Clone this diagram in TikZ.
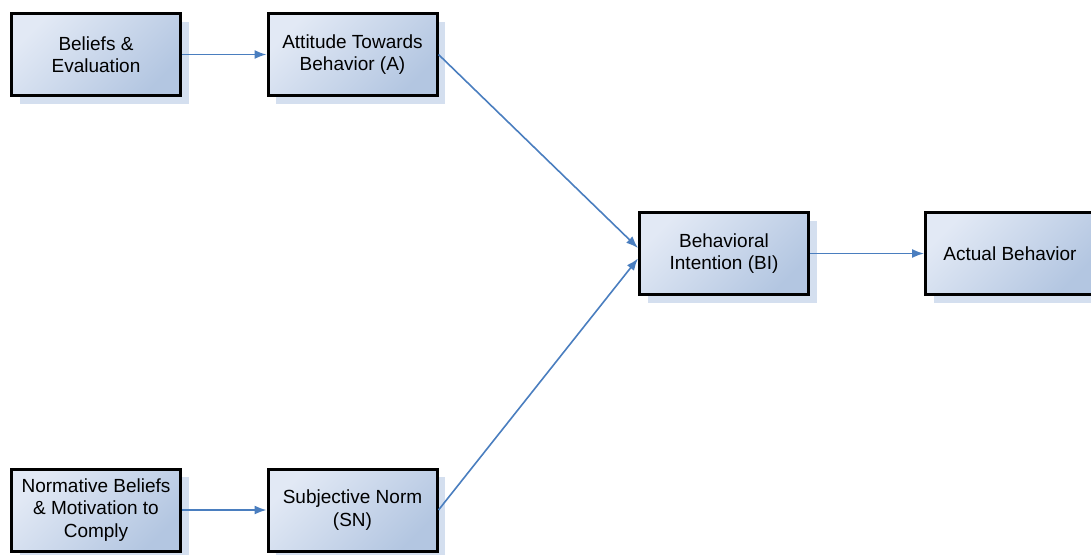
\documentclass[tikz,border=0pt]{standalone}
\usepackage{fontspec}
\setmainfont{Liberation Sans}
\usetikzlibrary{arrows.meta,shadows}
\definecolor{boxlight}{HTML}{E2E9F5}
\definecolor{boxdark}{HTML}{B3C6E1}
\definecolor{shadowblue}{HTML}{D4DFEF}
\definecolor{linkblue}{HTML}{4A7EBF}
\tikzset{
  stage/.style={draw=black, line width=3pt, minimum width=169pt, minimum height=82pt,
    inner sep=2pt, align=center, text=black,
    top color=boxlight, bottom color=boxdark, shading angle=45,
    font=\fontsize{19}{22.5}\selectfont,
    drop shadow={shadow xshift=8pt, shadow yshift=-8pt, fill=shadowblue, opacity=1}},
  link/.style={draw=linkblue, line width=1.6pt, -{Latex[length=12pt,width=9pt]}}
}
\begin{document}
\begin{tikzpicture}[x=1pt,y=-1pt]
  \useasboundingbox (0,0) rectangle (1091,554);
  % stage boxes
  \node[stage] (bel) at (96,54.5) {Beliefs \&\\Evaluation};
  \node[stage] (att) at (352.5,54.5) {Attitude Towards\\Behavior (A)};
  \node[stage] (bi)  at (724,253.5) {Behavioral\\Intention (BI)};
  \node[stage] (act) at (1010,253.5) {Actual Behavior};
  \node[stage] (nor) at (96,510) {Normative Beliefs\\\& Motivation to\\Comply};
  \node[stage] (sn)  at (352.5,510) {Subjective Norm\\(SN)};
  % connectors
  \draw[link] (bel.east) -- (att.west);
  \draw[link] (att.east) -- ([yshift=5.5pt]bi.west);
  \draw[link] (sn.east) -- ([yshift=-5pt]bi.west);
  \draw[link] (bi.east) -- (act.west);
  \draw[link] (nor.east) -- (sn.west);
\end{tikzpicture}
\end{document}
